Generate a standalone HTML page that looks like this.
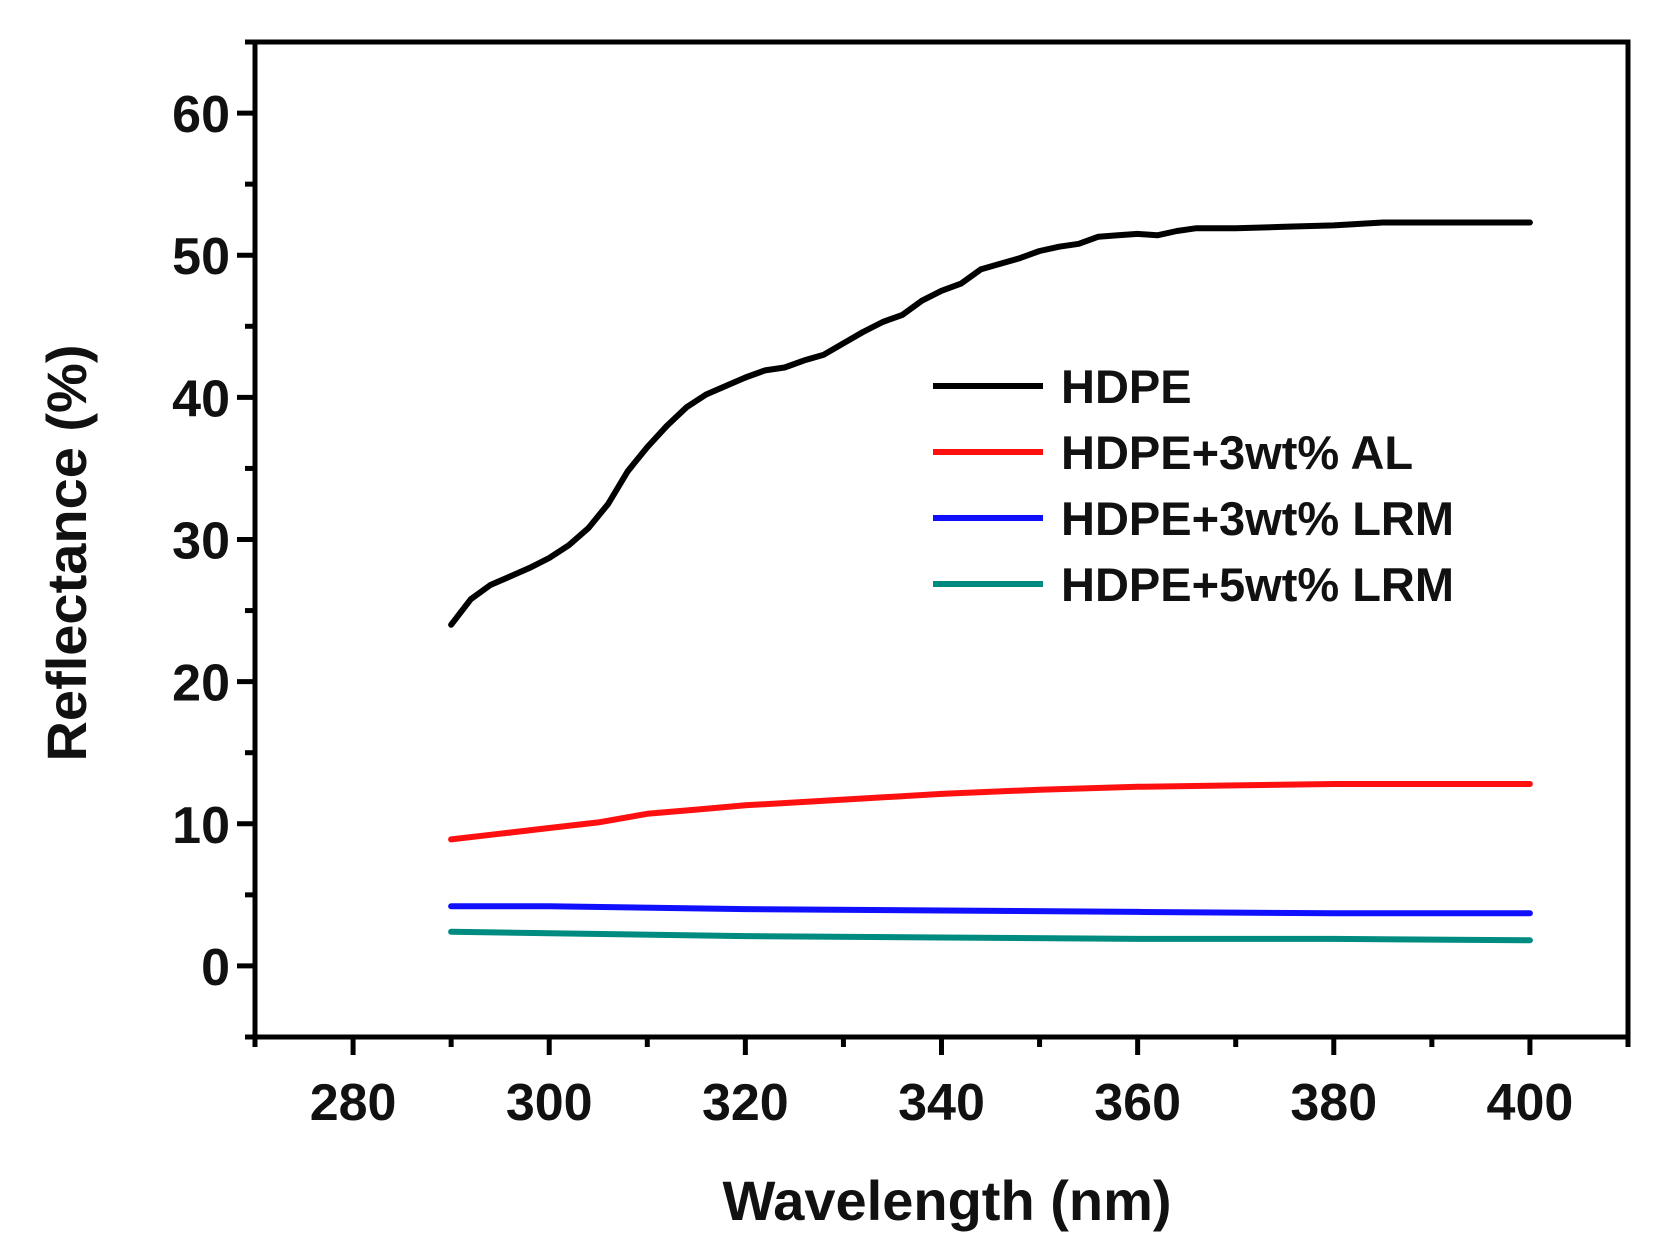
<!DOCTYPE html>
<html><head><meta charset="utf-8"><style>
html,body{margin:0;padding:0;background:#fff}
svg{display:block}
text{font-family:"Liberation Sans",Arial,sans-serif;font-weight:bold;fill:#111}
</style></head><body>
<svg id="chart" width="1660" height="1260" viewBox="0 0 1660 1260" xmlns="http://www.w3.org/2000/svg"></svg>
<script>
const xTicks=[280,300,320,340,360,380,400];
const yTicks=[0,10,20,30,40,50,60];
const seriesNames=["HDPE","HDPE+3wt% AL","HDPE+3wt% LRM","HDPE+5wt% LRM"];
const seriesColors=["#000000","#ff1010","#1010ff","#008b80"];
const hdpeX=[290,292,294,296,298,300,302,304,306,308,310,312,314,316,318,320,322,324,326,328,330,332,334,336,338,340,342,344,346,348,350,352,354,356,358,360,362,364,366,370,375,380,385,390,395,400];
const hdpeY=[24,25.8,26.8,27.4,28.0,28.7,29.6,30.8,32.5,34.8,36.5,38,39.3,40.2,40.8,41.4,41.9,42.1,42.6,43.0,43.8,44.6,45.3,45.8,46.8,47.5,48.0,49.0,49.4,49.8,50.3,50.6,50.8,51.3,51.4,51.5,51.4,51.7,51.9,51.9,52.0,52.1,52.3,52.3,52.3,52.3];
const alX=[290,295,300,305,310,315,320,330,340,350,360,370,380,390,400];
const alY=[8.9,9.3,9.7,10.1,10.7,11.0,11.3,11.7,12.1,12.4,12.6,12.7,12.8,12.8,12.8];
const lrm3X=[290,300,320,340,360,380,400];
const lrm3Y=[4.2,4.2,4.0,3.9,3.8,3.7,3.7];
const lrm5X=[290,300,320,340,360,380,400];
const lrm5Y=[2.4,2.3,2.1,2.0,1.9,1.9,1.8];

const L=255,R=1628,T=42,B=1037,xMin=270,xMax=410,yMin=-5,yMax=65;
const sx=v=>L+(v-xMin)/(xMax-xMin)*(R-L);
const sy=v=>B-(v-yMin)/(yMax-yMin)*(B-T);
const svg=document.getElementById('chart');
const NS="http://www.w3.org/2000/svg";
function mk(tag,attrs,parent){const e=document.createElementNS(NS,tag);for(const k in attrs)e.setAttribute(k,attrs[k]);(parent||svg).appendChild(e);return e;}

const frame=mk('rect',{x:L,y:T,width:R-L,height:B-T,fill:'none',stroke:'#000','stroke-width':5});



for(let v=xMin;v<=xMax;v+=10){
  const major=v%20===0;
  const t=mk('line',{x1:sx(v),x2:sx(v),y1:B,y2:B+(major?18:10),stroke:'#000','stroke-width':5});
  
  
}
xTicks.forEach(v=>{
  const t=mk('text',{x:sx(v),y:1120,'text-anchor':'middle','font-size':52});
  t.textContent=v;
  
  
});
for(let v=yMin;v<=yMax;v+=5){
  const major=v%10===0;
  const t=mk('line',{x1:L,x2:L-(major?18:10),y1:sy(v),y2:sy(v),stroke:'#000','stroke-width':5});
  
  
}
yTicks.forEach(v=>{
  const t=mk('text',{x:230,y:sy(v)+19,'text-anchor':'end','font-size':52});
  t.textContent=v;
  
  
});
const xt=mk('text',{x:947,y:1220,'text-anchor':'middle','font-size':56});
xt.textContent='Wavelength (nm)';


const yt=mk('text',{x:0,y:0,'text-anchor':'middle','font-size':56,transform:'translate(86,553) rotate(-90)'});
yt.textContent='Reflectance (%)';



const allX=[hdpeX,alX,lrm3X,lrm5X], allY=[hdpeY,alY,lrm3Y,lrm5Y];
const lineNames=['line-hdpe','line-hdpe-3al','line-hdpe-3lrm','line-hdpe-5lrm'];
for(let s=0;s<4;s++){
  const d=allX[s].map((x,i)=>(i?'L':'M')+sx(x).toFixed(1)+','+sy(allY[s][i]).toFixed(1)).join(' ');
  const p=mk('path',{d:d,fill:'none',stroke:seriesColors[s],'stroke-width':6,'stroke-linejoin':'round','stroke-linecap':'round'});
  
  
}
const legendY=[386,452,518,584];
for(let s=0;s<4;s++){
  const g=mk('g',{});
  
  
  mk('line',{x1:933,x2:1043,y1:legendY[s],y2:legendY[s],stroke:seriesColors[s],'stroke-width':6},g);
  const t=mk('text',{x:1061,y:legendY[s]+17,'font-size':47},g);
  t.textContent=seriesNames[s];
}
</script>
</body></html>
